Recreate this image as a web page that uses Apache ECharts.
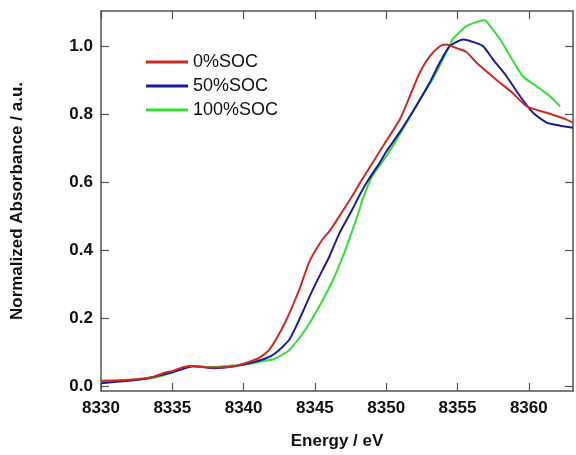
<!DOCTYPE html>
<html>
<head>
<meta charset="utf-8">
<script src="https://cdn.jsdelivr.net/npm/echarts@6/dist/echarts.min.js"></script>
<style>
html,body{margin:0;padding:0;background:#fff;}
#chart{width:576px;height:455px;}
</style>
</head>
<body>
<div id="chart"></div>
<script>
const seriesNames = ['0%SOC', '50%SOC', '100%SOC'];
const xTicks = [8330, 8335, 8340, 8345, 8350, 8355, 8360];
const yTicks = [0.0, 0.2, 0.4, 0.6, 0.8, 1.0];

const soc0 = [
  [8330.0,0.015],[8332.0,0.018],[8333.7,0.027],[8334.4,0.038],[8335.1,0.045],[8335.8,0.056],
  [8336.4,0.059],[8337.6,0.054],[8339.0,0.056],[8340.1,0.067],[8341.1,0.083],[8341.8,0.106],
  [8342.9,0.186],[8343.9,0.283],[8344.6,0.365],[8345.5,0.430],[8346.0,0.455],[8346.7,0.499],
  [8347.6,0.558],[8348.3,0.608],[8349.05,0.658],[8349.75,0.705],[8350.95,0.785],[8351.65,0.853],
  [8352.35,0.923],[8353.05,0.971],[8353.76,1.001],[8354.2,1.006],[8354.9,0.996],[8355.6,0.985],
  [8356.4,0.950],[8357.7,0.903],[8358.85,0.864],[8359.85,0.824],[8361.25,0.805],[8362.65,0.785],
  [8363.1,0.776]
];
const soc50 = [
  [8330.0,0.008],[8333.0,0.020],[8335.0,0.040],[8336.5,0.058],[8338.0,0.052],[8340.0,0.063],
  [8341.5,0.080],[8342.25,0.097],[8343.2,0.136],[8343.9,0.195],[8344.7,0.270],[8345.3,0.322],
  [8346.0,0.380],[8346.7,0.448],[8347.65,0.522],[8348.1,0.560],[8348.7,0.604],[8349.55,0.658],
  [8350.0,0.690],[8350.95,0.748],[8352.1,0.824],[8353.05,0.894],[8353.76,0.953],[8354.45,1.001],
  [8355.4,1.021],[8356.3,1.011],[8356.8,1.001],[8357.5,0.962],[8358.45,0.912],[8359.4,0.853],
  [8360.3,0.805],[8361.25,0.776],[8362.2,0.767],[8363.1,0.761]
];
const soc100 = [
  [8330.0,0.010],[8333.7,0.024],[8335.15,0.042],[8336.3,0.059],[8337.7,0.055],[8338.9,0.059],
  [8340.06,0.062],[8341.2,0.072],[8342.2,0.080],[8343.2,0.106],[8344.4,0.170],[8345.3,0.234],
  [8346.25,0.310],[8346.95,0.380],[8347.3,0.420],[8347.9,0.490],[8348.35,0.550],[8349.05,0.620],
  [8350.0,0.676],[8351.15,0.755],[8352.35,0.844],[8353.25,0.903],[8354.2,0.981],[8354.65,1.021],
  [8355.2,1.045],[8355.6,1.060],[8356.3,1.072],[8356.9,1.078],[8357.3,1.060],[8358.0,1.021],
  [8358.7,0.971],[8359.6,0.912],[8360.55,0.883],[8361.5,0.853],[8362.2,0.824]
];

const colors = ['#cc2a22', '#1c1c96', '#36dc36'];
const font = 'Liberation Sans, Arial, sans-serif';
const axisColor = '#555';

const chart = echarts.init(document.getElementById('chart'), null, {renderer: 'canvas'});
const mkX = (pos, show) => ({
  type: 'value', position: pos, min: 8330, max: 8363.1,
  axisLine: {show: true, onZero: false, lineStyle: {color: axisColor, width: 1.5}},
  axisTick: {show: true, inside: true, length: 8, customValues: xTicks, lineStyle: {color: axisColor, width: 1.2}},
  axisLabel: {show: show, customValues: xTicks, margin: 9, color: '#111', fontFamily: font, fontSize: 17, fontWeight: 'bold',
    formatter: v => String(Math.round(v))},
  splitLine: {show: false},
  name: show ? 'Energy / eV' : '', nameLocation: 'middle', nameGap: 42,
  nameTextStyle: {color: '#111', fontFamily: font, fontSize: 17, fontWeight: 'bold'}
});
const mkY = (pos, show) => ({
  type: 'value', position: pos, min: -0.015, max: 1.105,
  axisLine: {show: true, onZero: false, lineStyle: {color: axisColor, width: 1.5}},
  axisTick: {show: true, inside: true, length: 8, customValues: yTicks, lineStyle: {color: axisColor, width: 1.2}},
  axisLabel: {show: show, customValues: yTicks, margin: 8, color: '#111', fontFamily: font, fontSize: 17, fontWeight: 'bold',
    formatter: v => v.toFixed(1)},
  splitLine: {show: false},
  name: show ? 'Normalized Absorbance / a.u.' : '', nameLocation: 'middle', nameGap: 75,
  nameTextStyle: {color: '#111', fontFamily: font, fontSize: 17, fontWeight: 'bold'}
});
const datasets = [soc0, soc50, soc100];
chart.setOption({
  animation: false,
  backgroundColor: '#fff',
  grid: {left: 101, right: 3, top: 11, bottom: 64},
  xAxis: [mkX('bottom', true), mkX('top', false)],
  yAxis: [mkY('left', true), mkY('right', false)],
  legend: {
    orient: 'vertical', left: 141, top: 48, itemWidth: 42, itemHeight: 3, itemGap: 6,
    icon: 'rect',
    textStyle: {color: '#111', fontFamily: font, fontSize: 18, lineHeight: 18},
    data: seriesNames
  },
  series: seriesNames.map((n, i) => ({
    name: n, type: 'line', xAxisIndex: 0, yAxisIndex: 0, data: datasets[i],
    symbol: 'none', smooth: 0.2, color: colors[i],
    lineStyle: {width: 2, color: colors[i]}, z: 3 - i
  }))
});
</script>
</body>
</html>
